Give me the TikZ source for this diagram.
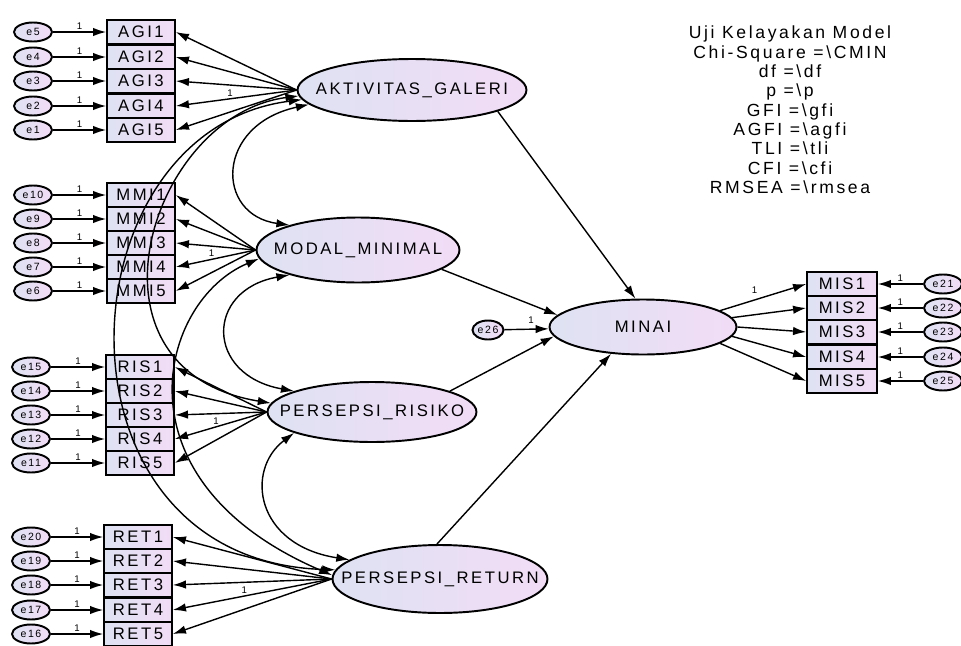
\documentclass[tikz,border=0pt]{standalone}
\usepackage{fontspec}
\setmainfont{Liberation Sans}[LetterSpace=15]
\usepackage{tikz}
\usetikzlibrary{shapes.geometric, arrows.meta}
\usepackage{xcolor}
\definecolor{amosleft}{RGB}{222,226,242}
\definecolor{amosright}{RGB}{242,220,246}
\newcommand{\nowide}[1]{\makebox[0pt]{#1}}

\begin{document}
\begin{tikzpicture}[
        x=0.02cm, y=-0.02cm,
        latent/.style={
            ellipse,
            draw,
            line width=1.1pt,
            left color=amosleft,
            right color=amosright,
            font=\fontsize{9.5}{10}\selectfont
        },
        indicator/.style={
            rectangle,
            draw,
            line width=0.9pt,
            left color=amosleft,
            right color=amosright,
            minimum width=1.36cm,
            minimum height=0.49cm,
            inner sep=0pt,
            font=\fontsize{9.5}{10}\selectfont
        },
        error/.style={
            ellipse,
            draw,
            line width=1.1pt,
            left color=amosleft,
            right color=amosright,
            minimum width=0.76cm,
            minimum height=0.38cm,
            inner sep=0pt,
            font=\fontsize{6}{6}\selectfont
        },
        one/.style={
            inner sep=1pt,
            font=\fontsize{5.5}{6}\selectfont
        },
        arrow/.style={
            -{Latex[length=7.5pt,width=4.8pt]},
            line width=0.8pt
        },
        covar/.style={
            {Latex[length=7.5pt,width=4.8pt]}-{Latex[length=7.5pt,width=4.8pt]},
            line width=0.8pt
        }
    ]
    \useasboundingbox (0,0) rectangle (961,646);

    % latent variables
    \node[latent, minimum width=4.58cm, minimum height=1.24cm] (galeri) at (412,90) {\nowide{AKTIVITAS\_GALERI}};
    \node[latent, minimum width=4.06cm, minimum height=1.30cm] (modal) at (358,250) {\nowide{MODAL\_MINIMAL}};
    \node[latent, minimum width=4.18cm, minimum height=1.20cm] (risiko) at (372,412) {\nowide{PERSEPSI\_RISIKO}};
    \node[latent, minimum width=4.30cm, minimum height=1.36cm] (retur) at (440,579) {\nowide{PERSEPSI\_RETURN}};
    \node[latent, minimum width=3.74cm, minimum height=1.10cm] (minai) at (643,327) {\nowide{MINAI}};

    % AKTIVITAS_GALERI block
    \node[indicator] (agi1) at (141,32) {AGI1};
    \node[indicator] (agi2) at (141,57) {AGI2};
    \node[indicator] (agi3) at (141,81) {AGI3};
    \node[indicator] (agi4) at (141,106) {AGI4};
    \node[indicator] (agi5) at (141,130) {AGI5};
    \node[error] (e5) at (33,32) {e5};
    \node[error] (e4) at (33,57) {e4};
    \node[error] (e3) at (33,81) {e3};
    \node[error] (e2) at (33,106) {e2};
    \node[error] (e1) at (33,130) {e1};

    % MODAL_MINIMAL block
    \node[indicator] (mmi1) at (141,195) {MMI1};
    \node[indicator] (mmi2) at (141,219) {MMI2};
    \node[indicator] (mmi3) at (141,243) {MMI3};
    \node[indicator] (mmi4) at (141,267) {MMI4};
    \node[indicator] (mmi5) at (141,291) {MMI5};
    \node[error] (e10) at (33,195) {e10};
    \node[error] (e9) at (33,219) {e9};
    \node[error] (e8) at (33,243) {e8};
    \node[error] (e7) at (33,267) {e7};
    \node[error] (e6) at (33,291) {e6};

    % PERSEPSI_RISIKO block
    \node[indicator] (ris1) at (140,367) {RIS1};
    \node[indicator] (ris2) at (140,391) {RIS2};
    \node[indicator] (ris3) at (140,415) {RIS3};
    \node[indicator] (ris4) at (140,439) {RIS4};
    \node[indicator] (ris5) at (140,463) {RIS5};
    \node[error] (e15) at (31,367) {e15};
    \node[error] (e14) at (31,391) {e14};
    \node[error] (e13) at (31,415) {e13};
    \node[error] (e12) at (31,439) {e12};
    \node[error] (e11) at (31,463) {e11};

    % PERSEPSI_RETURN block
    \node[indicator] (ret1) at (138,537) {RET1};
    \node[indicator] (ret2) at (138,561) {RET2};
    \node[indicator] (ret3) at (138,585) {RET3};
    \node[indicator] (ret4) at (138,610) {RET4};
    \node[indicator] (ret5) at (138,634) {RET5};
    \node[error] (e20) at (31,537) {e20};
    \node[error] (e19) at (31,561) {e19};
    \node[error] (e18) at (31,585) {e18};
    \node[error] (e17) at (31,610) {e17};
    \node[error] (e16) at (31,634) {e16};

    % MINAI block
    \node[indicator, minimum width=1.40cm] (mis1) at (842,284) {MIS1};
    \node[indicator, minimum width=1.40cm] (mis2) at (842,308) {MIS2};
    \node[indicator, minimum width=1.40cm] (mis3) at (842,332) {MIS3};
    \node[indicator, minimum width=1.40cm] (mis4) at (842,357) {MIS4};
    \node[indicator, minimum width=1.40cm] (mis5) at (842,381) {MIS5};
    \node[error] (e21) at (943,284) {e21};
    \node[error] (e22) at (943,308) {e22};
    \node[error] (e23) at (943,332) {e23};
    \node[error] (e24) at (943,357) {e24};
    \node[error] (e25) at (943,381) {e25};
    \node[error, minimum width=0.62cm] (e26) at (488,330) {e26};

    % fit summary
    \node[align=center, font=\fontsize{10}{11}\selectfont] (fit) at (790,110) {Uji Kelayakan Model\\Chi-Square =\textbackslash CMIN\\df =\textbackslash df\\p =\textbackslash p\\GFI =\textbackslash gfi\\AGFI =\textbackslash agfi\\TLI =\textbackslash tli\\CFI =\textbackslash cfi\\RMSEA =\textbackslash rmsea};

    % Error arrows
    \draw[arrow] (e5) -- (agi1) node[one, midway, above] {1};
    \draw[arrow] (e4) -- (agi2) node[one, midway, above] {1};
    \draw[arrow] (e3) -- (agi3) node[one, midway, above] {1};
    \draw[arrow] (e2) -- (agi4) node[one, midway, above] {1};
    \draw[arrow] (e1) -- (agi5) node[one, midway, above] {1};
    \draw[arrow] (e10) -- (mmi1) node[one, midway, above] {1};
    \draw[arrow] (e9) -- (mmi2) node[one, midway, above] {1};
    \draw[arrow] (e8) -- (mmi3) node[one, midway, above] {1};
    \draw[arrow] (e7) -- (mmi4) node[one, midway, above] {1};
    \draw[arrow] (e6) -- (mmi5) node[one, midway, above] {1};
    \draw[arrow] (e15) -- (ris1) node[one, midway, above] {1};
    \draw[arrow] (e14) -- (ris2) node[one, midway, above] {1};
    \draw[arrow] (e13) -- (ris3) node[one, midway, above] {1};
    \draw[arrow] (e12) -- (ris4) node[one, midway, above] {1};
    \draw[arrow] (e11) -- (ris5) node[one, midway, above] {1};
    \draw[arrow] (e20) -- (ret1) node[one, midway, above] {1};
    \draw[arrow] (e19) -- (ret2) node[one, midway, above] {1};
    \draw[arrow] (e18) -- (ret3) node[one, midway, above] {1};
    \draw[arrow] (e17) -- (ret4) node[one, midway, above] {1};
    \draw[arrow] (e16) -- (ret5) node[one, midway, above] {1};
    \draw[arrow] (e21) -- (mis1) node[one, midway, above] {1};
    \draw[arrow] (e22) -- (mis2) node[one, midway, above] {1};
    \draw[arrow] (e23) -- (mis3) node[one, midway, above] {1};
    \draw[arrow] (e24) -- (mis4) node[one, midway, above] {1};
    \draw[arrow] (e25) -- (mis5) node[one, midway, above] {1};
    \draw[arrow] (e26) -- (minai) node[one, pos=0.6, above=2pt] {1};

    % Loadings
    \draw[arrow] (galeri.west) -- (agi1.east);
    \draw[arrow] (galeri.west) -- (agi2.east);
    \draw[arrow] (galeri.west) -- (agi3.east);
    \draw[arrow] (galeri.west) -- (agi4.east) node[one, pos=0.55, above] {1};
    \draw[arrow] (galeri.west) -- (agi5.east);
    \draw[arrow] (modal.west) -- (mmi1.east);
    \draw[arrow] (modal.west) -- (mmi2.east);
    \draw[arrow] (modal.west) -- (mmi3.east);
    \draw[arrow] (modal.west) -- (mmi4.east) node[one, pos=0.55, above] {1};
    \draw[arrow] (modal.west) -- (mmi5.east);
    \draw[arrow] (risiko.west) -- (ris1.east);
    \draw[arrow] (risiko.west) -- (ris2.east);
    \draw[arrow] (risiko.west) -- (ris3.east);
    \draw[arrow] (risiko.west) -- (ris4.east) node[one, pos=0.55, above] {1};
    \draw[arrow] (risiko.west) -- (ris5.east);
    \draw[arrow] (retur.west) -- (ret1.east);
    \draw[arrow] (retur.west) -- (ret2.east);
    \draw[arrow] (retur.west) -- (ret3.east);
    \draw[arrow] (retur.west) -- (ret4.east) node[one, pos=0.55, above] {1};
    \draw[arrow] (retur.west) -- (ret5.east);
    \draw[arrow] (minai.12) -- (mis1.west) node[one, pos=0.4, above=2pt] {1};
    \draw[arrow] (minai.6) -- (mis2.west);
    \draw[arrow] (minai.0) -- (mis3.west);
    \draw[arrow] (minai.-6) -- (mis4.west);
    \draw[arrow] (minai.-12) -- (mis5.west);

    % Structural paths
    \draw[arrow] (galeri.-14) -- (minai.105);
    \draw[arrow] (modal.-13) -- (minai.172);
    \draw[arrow] (risiko.15) -- (minai.186);
    \draw[arrow] (retur.95) -- (minai.220);

    % Covariances
    \draw[covar] (galeri.188) .. controls (215,125) and (215,215) .. (modal.160);
    \draw[covar] (modal.200) .. controls (205,290) and (205,375) .. (risiko.165);
    \draw[covar] (risiko.195) .. controls (245,470) and (255,545) .. (retur.168);
    \draw[covar] (galeri.183) .. controls (150,115) and (70,370) .. (risiko.175);
    \draw[covar] (galeri.185) .. controls (60,130) and (40,560) .. (retur.175);
    \draw[covar] (modal.185) .. controls (160,300) and (110,480) .. (retur.178);

\end{tikzpicture}
\end{document}
